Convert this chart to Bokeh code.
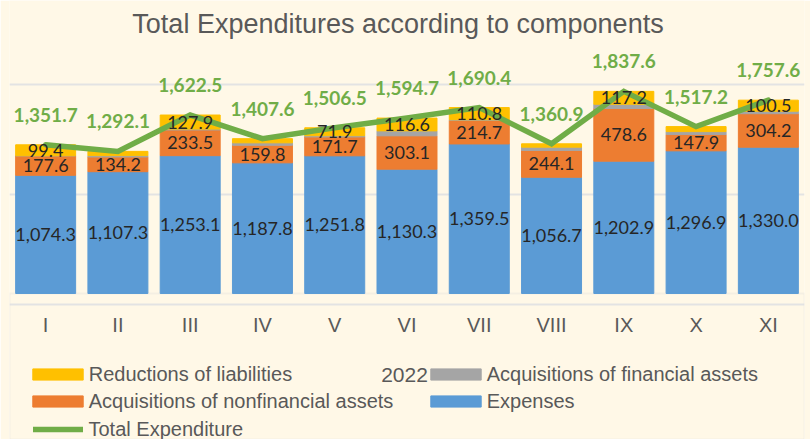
from bokeh.plotting import figure
from bokeh.models import (FactorRange, Range1d, FixedTicker, BoxAnnotation, Legend,
                          LegendItem, Label, ColumnDataSource)
from bokeh.core.properties import value
from bokeh.embed import file_html
from bokeh.resources import INLINE

# ---- data ----
months = ["I", "II", "III", "IV", "V", "VI", "VII", "VIII", "IX", "X", "XI"]
expenses = [1074.3, 1107.3, 1253.1, 1187.8, 1251.8, 1130.3, 1359.5, 1056.7, 1202.9, 1296.9, 1330.0]
nonfinancial = [177.6, 134.2, 233.5, 159.8, 171.7, 303.1, 214.7, 244.1, 478.6, 147.9, 304.2]
financial = [0.4, 12.0, 8.0, 22.0, 11.1, 44.7, 5.4, 29.6, 38.9, 26.9, 22.9]
liabilities = [99.4, 38.6, 127.9, 38.0, 71.9, 116.6, 110.8, 30.5, 117.2, 45.5, 100.5]
total = [1351.7, 1292.1, 1622.5, 1407.6, 1506.5, 1594.7, 1690.4, 1360.9, 1837.6, 1517.2, 1757.6]
liab_labelled = [True, False, True, False, True, True, True, False, True, False, True]
grid_values = [-100, 900, 1900]
year_label = "2022"
title_text = "Total Expenditures according to components"

BG = "#FFF8E7"
BLUE = "#5B9BD5"
ORANGE = "#ED7D31"
GREY = "#A5A5A5"
YELLOW = "#FFC000"
GREEN = "#70AD47"
TXT = "#595959"


def fmt(v):
    return f"{v:,.1f}"


src = ColumnDataSource(dict(month=months, exp=expenses, nonfin=nonfinancial,
                            fin=financial, liab=liabilities, total=total))

p = figure(x_range=FactorRange(factors=months), y_range=Range1d(-1327.3, 2663.6),
           width=810, height=439, output_backend="svg", toolbar_location=None,
           min_border=0, min_border_left=9, min_border_right=6,
           background_fill_color=BG, border_fill_color=BG, outline_line_color=None)

p.yaxis.visible = False
p.xgrid.visible = False
p.ygrid.ticker = FixedTicker(ticks=grid_values)
p.ygrid.grid_line_color = "#E3E3E3"
p.ygrid.grid_line_width = 2

box = BoxAnnotation(top=0, fill_alpha=0, line_color="#D9D9D9", line_width=2, level="underlay")
p.add_layout(box)

rs = p.vbar_stack(["exp", "nonfin", "fin", "liab"], x="month", width=0.83,
                  color=[BLUE, ORANGE, GREY, YELLOW], source=src)

rl = p.line(x="month", y="total", source=src, line_color=GREEN, line_width=5.5,
            line_cap="round", line_join="miter")

# labels inside the bars
lab_x, lab_y, lab_t = [], [], []
for i, m in enumerate(months):
    e, n, f, l = expenses[i], nonfinancial[i], financial[i], liabilities[i]
    lab_x += [m, m]
    lab_y += [e / 2, e + n / 2]
    lab_t += [fmt(e), fmt(n)]
    if liab_labelled[i]:
        lab_x.append(m)
        lab_y.append(e + n + f + l / 2)
        lab_t.append(fmt(l))
p.text(x=lab_x, y=lab_y, text=lab_t, text_font=value("Lato"), text_font_size="18px",
       text_color="#262626", text_align="center", text_baseline="middle")

# total labels
p.text(x=months, y=total, text=[fmt(t) for t in total], y_offset=-30,
       text_font=value("Lato"), text_font_style="bold", text_font_size="19px",
       text_color=GREEN, text_align="center", text_baseline="middle")

# category axis
xa = p.xaxis[0]
xa.fixed_location = 0
xa.axis_line_color = None
xa.major_tick_line_color = None
xa.minor_tick_line_color = None
xa.major_label_standoff = 15
xa.major_label_text_font = "Liberation Sans"
xa.major_label_text_font_size = "20px"
xa.major_label_text_color = TXT

# title and year
p.add_layout(Label(x=388.5, y=416, x_units="screen", y_units="screen", text=title_text,
                   text_font="Liberation Sans", text_font_size="27px", text_color=TXT,
                   text_align="center", text_baseline="middle"))
p.add_layout(Label(x=395, y=65, x_units="screen", y_units="screen", text=year_label,
                   text_font="Liberation Sans", text_font_size="21px", text_color=TXT,
                   text_align="center", text_baseline="middle"))


def make_legend(items, loc, gw, standoff, lw):
    return Legend(items=items, orientation="horizontal", location=loc, padding=0,
                  margin=0, spacing=0, glyph_width=gw, glyph_height=14, label_height=14,
                  label_width=lw, label_standoff=standoff,
                  label_text_font="Liberation Sans", label_text_font_size="20px",
                  label_text_color=TXT, background_fill_alpha=0, border_line_alpha=0)


legA = make_legend([LegendItem(label="Reductions of liabilities", renderers=[rs[3]]),
                    LegendItem(label="Acquisitions of financial assets", renderers=[rs[2]])],
                   (16.7, 53.5), 63, 0, 335)
legB = make_legend([LegendItem(label="Acquisitions of nonfinancial assets", renderers=[rs[1]]),
                    LegendItem(label="Expenses", renderers=[rs[0]])],
                   (16.7, 26.5), 63, 0, 335)
legC = make_legend([LegendItem(label="Total Expenditure", renderers=[rl])],
                   (23.5, -1.5), 50, 6, 20)
for lg in (legA, legB, legC):
    p.add_layout(lg)

open("out.html", "w").write(file_html(p, INLINE))
